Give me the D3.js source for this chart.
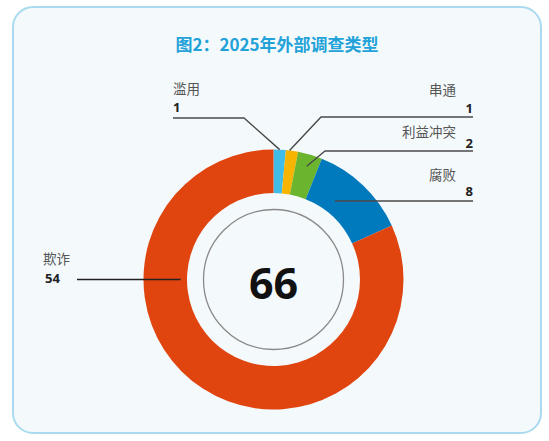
<!DOCTYPE html>
<html>
<head>
<meta charset="utf-8">
<script src="https://cdn.jsdelivr.net/npm/d3@7"></script>
<style>
	body { margin: 0; background: #ffffff; }
	svg { display: block; }
</style>
</head>
<body>
<div id="chart"></div>
<script>

// data
var categories = ["滥用", "串通", "利益冲突", "腐败", "欺诈"]
var counts = [1, 1, 2, 8, 54]
var colors = ["#3fbde8", "#f7b400", "#6bb42e", "#0079bd", "#e0440f"]
var titleText = "图2：2025年外部调查类型"
var totalText = d3.sum(counts)

// label layout (position of text + leader line), one per category
var labelLayout = [
	{"side": "left",  "nameY": 88,  "numY": 107, "lineY": 118, "elbowX": 244, "endX": 173, "t": 0.5,  "r": 130},
	{"side": "right", "nameY": 89,  "numY": 108, "lineY": 117, "elbowX": 321, "endX": 473, "t": 0.3,  "r": 130},
	{"side": "right", "nameY": 131, "numY": 143, "lineY": 151, "elbowX": 325, "endX": 473, "t": 0.5,  "r": 118},
	{"side": "right", "nameY": 174, "numY": 191, "lineY": 201, "elbowX": null, "endX": 473, "t": 0.37, "r": 100},
	{"side": "left",  "nameY": 258, "numY": 278, "lineY": 279.5, "elbowX": null, "endX": 77, "t": 0.694, "r": 93}
]

var width = 549, height = 441
var cx = 273.5, cy = 279.5
var outerR = 130, innerR = 86.5

var svg = d3.select("#chart").append("svg")
	.attr("width", width)
	.attr("height", height)

// panel
svg.append("rect")
	.attr("x", 13).attr("y", 7)
	.attr("width", 528).attr("height", 426)
	.attr("rx", 20).attr("ry", 20)
	.attr("fill", "#f4f9fc")
	.attr("stroke", "#a9daef")
	.attr("stroke-width", 2)

svg.append("text")
	.attr("x", 277).attr("y", 43)
	.attr("text-anchor", "middle")
	.attr("dominant-baseline", "central")
	.style("font-family", "'Noto Sans CJK SC', 'Noto Sans', sans-serif")
	.style("font-weight", "bold")
	.style("font-size", "17px")
	.attr("fill", "#22a2d8")
	.text(titleText)

var g = svg.append("g")
	.attr("transform", "translate(" + cx + "," + cy + ")")

var pie = d3.pie().sort(null).value(function(d){ return d })
var arcs = pie(counts)

var arc = d3.arc().innerRadius(innerR).outerRadius(outerR)

g.selectAll("path.slice")
	.data(arcs)
	.enter()
	.append("path")
	.attr("class", "slice")
	.attr("d", arc)
	.attr("fill", function(d, i){ return colors[i] })

// thin inner ring + total
g.append("circle")
	.attr("r", 70)
	.attr("fill", "none")
	.attr("stroke", "#8a8a8a")
	.attr("stroke-width", 1.3)

g.append("text")
	.attr("x", 0).attr("y", 3)
	.attr("text-anchor", "middle")
	.attr("dominant-baseline", "central")
	.style("font-family", "'Open Sans', 'DejaVu Sans', sans-serif")
	.style("font-weight", "bold")
	.style("font-size", "43px")
	.attr("fill", "#111")
	.text(totalText)

// leader lines
function anchorPoint(a, lay){
	var ang = a.startAngle + (a.endAngle - a.startAngle) * lay.t
	return [cx + lay.r * Math.sin(ang), cy - lay.r * Math.cos(ang)]
}

var line = d3.line()

labelLayout.forEach(function(lay, i){
	var p = anchorPoint(arcs[i], lay)
	var pts = [p]
	if(lay.elbowX !== null){
		pts.push([lay.elbowX, lay.lineY])
	}else{
		pts[0] = [p[0], lay.lineY]
	}
	pts.push([lay.endX, lay.lineY])

	svg.append("path")
		.attr("d", line(pts))
		.attr("fill", "none")
		.attr("stroke", i == 4 ? "#222" : "#4a4a4a")
		.attr("stroke-width", 1.4)

	var nameX = lay.side == "left" ? lay.endX : 456
	var nameAnchor = lay.side == "left" ? "start" : "end"
	if(i == 4){ nameX = 43 }

	svg.append("text")
		.attr("x", nameX).attr("y", lay.nameY)
		.attr("text-anchor", nameAnchor)
		.attr("dominant-baseline", "central")
		.style("font-family", "'Noto Sans CJK SC', 'Noto Sans', sans-serif")
		.style("font-size", "13.5px")
		.attr("fill", "#555")
		.text(categories[i])

	var numX = lay.side == "left" ? (i == 4 ? 45 : lay.endX) : lay.endX
	svg.append("text")
		.attr("x", numX).attr("y", lay.numY)
		.attr("text-anchor", nameAnchor)
		.attr("dominant-baseline", "central")
		.style("font-family", "'Open Sans', 'DejaVu Sans', sans-serif")
		.style("font-weight", "bold")
		.style("font-size", "13px")
		.attr("fill", "#222")
		.text(counts[i])
})

</script>
</body>
</html>
